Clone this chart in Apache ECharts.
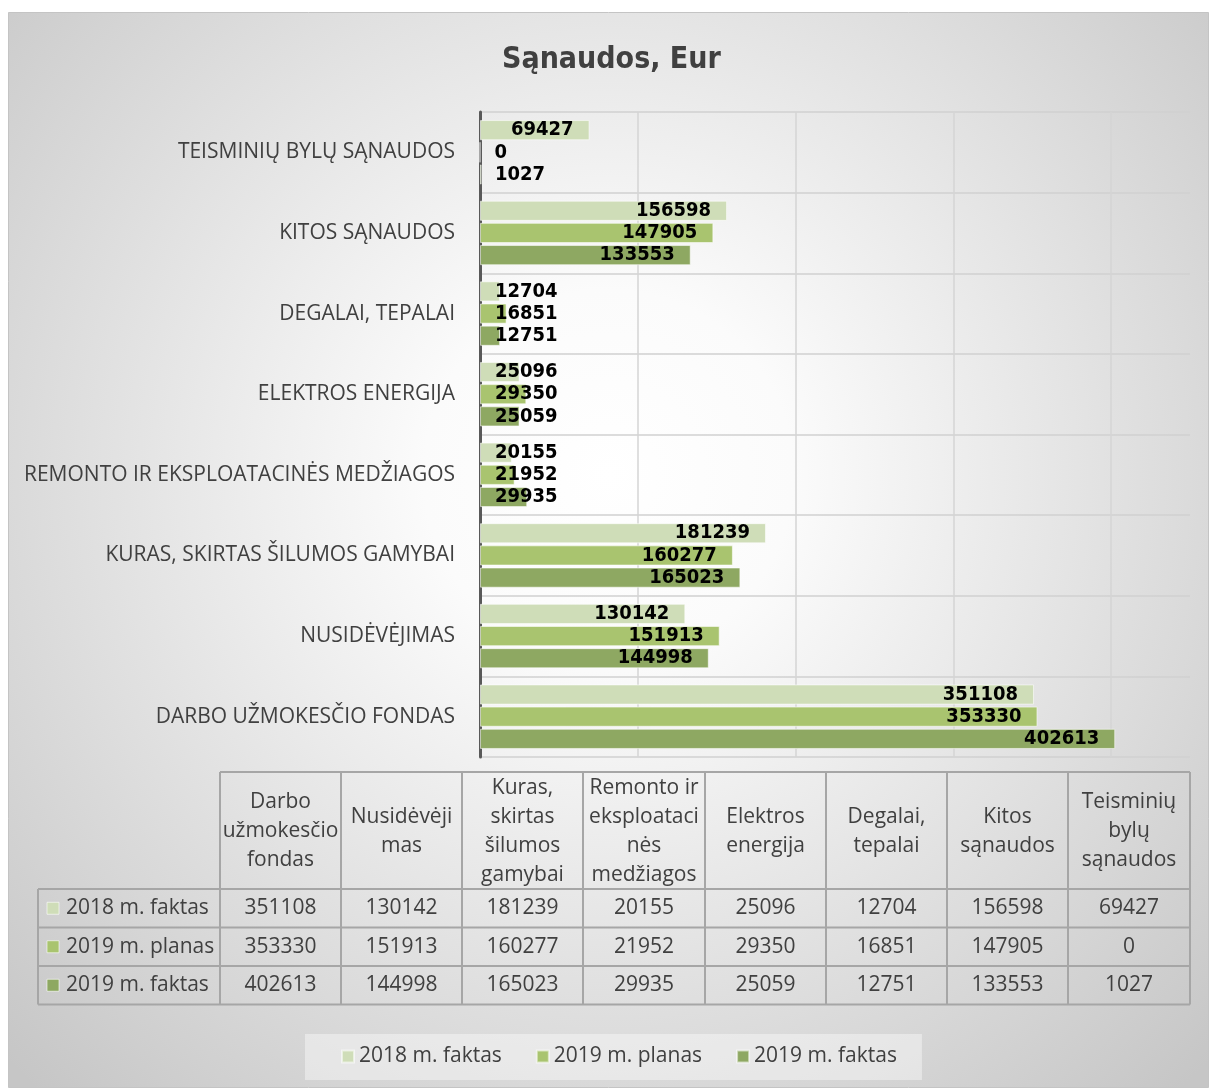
<!DOCTYPE html>
<html lang="lt" style="height: 100%">
  <head>
    <meta charset="utf-8" />
  </head>
  <body style="height: 100%; margin: 0; background: #fff">
    <div id="container" style="width: 1209px; height: 1088px"></div>

    <script src="https://cdn.jsdelivr.net/npm/echarts@6/dist/echarts.min.js"></script>

    <script type="text/javascript">
      // kategorijos, is apacios i virsu kaip lenteleje (Darbo ... Teisminiu)
      var categories = [
        "DARBO UŽMOKESČIO FONDAS",
        "NUSIDĖVĖJIMAS",
        "KURAS, SKIRTAS ŠILUMOS GAMYBAI",
        "REMONTO IR EKSPLOATACINĖS MEDŽIAGOS",
        "ELEKTROS ENERGIJA",
        "DEGALAI, TEPALAI",
        "KITOS SĄNAUDOS",
        "TEISMINIŲ BYLŲ SĄNAUDOS",
      ];
      var tableHeaders = [
        "Darbo\nužmokesčio\nfondas",
        "Nusidėvėji\nmas",
        "Kuras,\nskirtas\nšilumos\ngamybai",
        "Remonto ir\neksploataci\nnės\nmedžiagos",
        "Elektros\nenergija",
        "Degalai,\ntepalai",
        "Kitos\nsąnaudos",
        "Teisminių\nbylų\nsąnaudos",
      ];
      var seriesNames = ["2018 m. faktas", "2019 m. planas", "2019 m. faktas"];
      var fakt2018 = [351108, 130142, 181239, 20155, 25096, 12704, 156598, 69427];
      var plan2019 = [353330, 151913, 160277, 21952, 29350, 16851, 147905, 0];
      var fakt2019 = [402613, 144998, 165023, 29935, 25059, 12751, 133553, 1027];
      var colors = ["#cfddb8", "#a9c46f", "#8ea862"];

      var allValues = [fakt2018, plan2019, fakt2019];
      var textColor = "#404040";
      var font = "'Open Sans', 'Noto Sans', sans-serif";
      var condFont = "'DejaVu Sans Condensed', 'Liberation Sans Narrow', sans-serif";

      var dom = document.getElementById("container");
      var myChart = echarts.init(dom, null, { renderer: "canvas" });

      // y kategoriju asis apversta, todel virsuje Teisminiu
      var axisCats = categories.slice().reverse();

      function barData(vals) {
        return vals.slice().reverse().map(function (v) {
          var big = v > 50000;
          return {
            value: v,
            label: {
              position: big ? "insideRight" : "insideLeft",
              distance: big ? 16 : 15,
            },
          };
        });
      }

      var series = seriesNames.map(function (name, i) {
        return {
          name: name,
          type: "bar",
          data: barData(allValues[i]),
          barCategoryGap: "20%",
          barGap: "10%",
          itemStyle: {
            color: colors[i],
            borderColor: "rgba(255,255,255,0.55)",
            borderWidth: 1,
          },
          label: {
            show: true,
            color: "#000",
            fontFamily: condFont,
            fontWeight: "bold",
            fontSize: 20,
          },
          silent: true,
        };
      });

      // duomenu lentele po grafiku
      var colX = [220, 341, 462, 583, 705, 826, 947, 1068, 1190];
      var headTop = 772, headBottom = 889;
      var rowY = [889, 927.5, 966, 1004.5];
      var tableLeft = 38;
      var lineColor = "#a6a6a6";
      var tFont = "21px " + font;
      var g = [];

      g.push({
        type: "rect",
        z: -10,
        silent: true,
        shape: { x: 8.5, y: 12.5, width: 1200, height: 1075 },
        style: {
          fill: new echarts.graphic.RadialGradient(0.5, 0.43, 0.78, [
            { offset: 0, color: "#ffffff" },
            { offset: 0.22, color: "#fbfbfb" },
            { offset: 1, color: "#c6c6c6" },
          ]),
          stroke: "#c4c4c4",
          lineWidth: 1,
        },
      });

      function hline(x1, x2, y) {
        g.push({ type: "line", silent: true, shape: { x1: x1, y1: y, x2: x2, y2: y }, style: { stroke: lineColor, lineWidth: 2 } });
      }
      function vline(x, y1, y2) {
        g.push({ type: "line", silent: true, shape: { x1: x, y1: y1, x2: x, y2: y2 }, style: { stroke: lineColor, lineWidth: 2 } });
      }

      hline(colX[0], colX[8], headTop);
      rowY.forEach(function (y) { hline(tableLeft, colX[8], y); });
      colX.forEach(function (x) { vline(x, headTop, rowY[3]); });
      vline(tableLeft, rowY[0], rowY[3]);

      tableHeaders.forEach(function (t, c) {
        g.push({
          type: "text",
          silent: true,
          x: (colX[c] + colX[c + 1]) / 2,
          y: (headTop + headBottom) / 2 + 1,
          style: {
            text: t,
            fill: textColor,
            font: tFont,
            align: "center",
            verticalAlign: "middle",
            lineHeight: 29,
          },
        });
      });

      seriesNames.forEach(function (name, r) {
        var cy = (rowY[r] + rowY[r + 1]) / 2;
        g.push({
          type: "rect",
          silent: true,
          shape: { x: 47, y: cy - 6, width: 12, height: 12 },
          style: { fill: colors[r], stroke: "rgba(255,255,255,0.6)", lineWidth: 1 },
        });
        g.push({
          type: "text",
          silent: true,
          x: 66,
          y: cy,
          style: { text: name, fill: textColor, font: tFont, verticalAlign: "middle" },
        });
        allValues[r].forEach(function (v, c) {
          g.push({
            type: "text",
            silent: true,
            x: (colX[c] + colX[c + 1]) / 2,
            y: cy,
            style: { text: String(v), fill: textColor, font: tFont, align: "center", verticalAlign: "middle" },
          });
        });
      });

      var option = {
        animation: false,
        title: {
          text: "Sąnaudos, Eur",
          left: 497,
          top: 40,
          textStyle: { fontFamily: condFont, fontWeight: "bold", fontSize: 30, color: textColor },
        },
        legend: {
          data: seriesNames,
          left: 305,
          top: 1034,
          backgroundColor: "rgba(255,255,255,0.4)",
          padding: [12, 25, 13, 36],
          itemWidth: 12,
          itemHeight: 12,
          itemGap: 34,
          icon: "rect",
          textStyle: { fontFamily: font, fontSize: 21, color: textColor },
        },
        grid: { left: 480, top: 112, width: 710, height: 645, containLabel: false },
        xAxis: {
          type: "value",
          min: 0,
          max: 450000,
          interval: 100000,
          axisLabel: { show: false },
          axisLine: { show: false },
          axisTick: { show: false },
          splitLine: { show: true, showMaxLine: false, lineStyle: { color: "#d4d4d4", width: 1.5 } },
        },
        yAxis: {
          type: "category",
          inverse: true,
          data: axisCats,
          axisLine: { show: true, lineStyle: { color: "#595959", width: 3 } },
          axisTick: { show: false },
          axisLabel: { color: textColor, fontFamily: font, fontSize: 21, margin: 25 },
          splitLine: { show: true, lineStyle: { color: "#d0d0d0", width: 1.5 } },
        },
        graphic: g,
        series: series,
      };

      myChart.setOption(option);
      window.addEventListener("resize", myChart.resize);
    </script>
  </body>
</html>
